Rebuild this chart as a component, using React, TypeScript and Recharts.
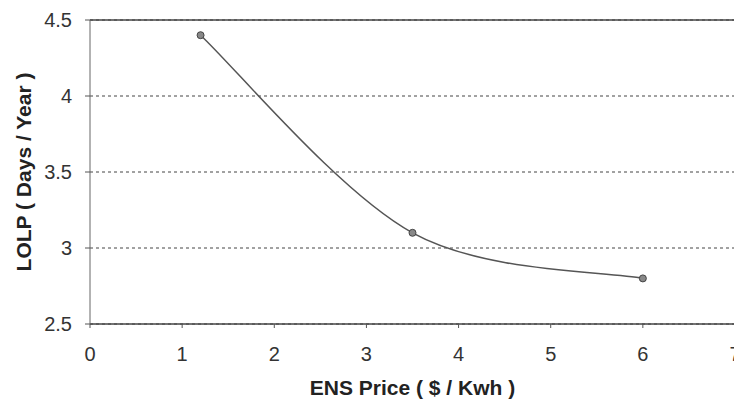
import React from 'react'
import { LineChart, Line, XAxis, YAxis, CartesianGrid, ReferenceLine, Label } from 'recharts'

// ENS price ($/kWh) against LOLP (days/year)
const ensPrice = [1.2, 3.5, 6]
const lolp = [4.4, 3.1, 2.8]

const xTicks = [0, 1, 2, 3, 4, 5, 6, 7]
const yTicks = [2.5, 3, 3.5, 4, 4.5]

const data = ensPrice.map((price, i) => ({ price, lolp: lolp[i] }))

const ink = '#333'
const font = 'Arial, "Liberation Sans", sans-serif'

// spreadsheet-style smoothing: cubic bezier through the points, tangents from neighbours / 6
const smoothCurve = (context: any) => {
  let pts: number[][] = []
  return {
    areaStart() {},
    areaEnd() {},
    lineStart() {
      pts = []
    },
    point(x: number, y: number) {
      pts.push([+x, +y])
    },
    lineEnd() {
      const n = pts.length
      if (!n) return
      context.moveTo(pts[0][0], pts[0][1])
      for (let i = 0; i < n - 1; i++) {
        const p0 = pts[Math.max(i - 1, 0)]
        const p1 = pts[i]
        const p2 = pts[i + 1]
        const p3 = pts[Math.min(i + 2, n - 1)]
        context.bezierCurveTo(
          p1[0] + (p2[0] - p0[0]) / 6,
          p1[1] + (p2[1] - p0[1]) / 6,
          p2[0] - (p3[0] - p1[0]) / 6,
          p2[1] - (p3[1] - p1[1]) / 6,
          p2[0],
          p2[1]
        )
      }
    },
  }
}

export default function App() {
  return (
    <div style={{ position: 'absolute', left: 0, top: 0, width: 734, height: 400, overflow: 'hidden', background: '#fff' }}>
      <LineChart
        width={760}
        height={400}
        data={data}
        margin={{ top: 20, right: 25, bottom: 0, left: 0 }}
        style={{ fontFamily: font }}
      >
        <CartesianGrid vertical={false} stroke="#444" strokeDasharray="3 3" strokeWidth={1} />
        <ReferenceLine y={4.5} stroke="#444" strokeWidth={1.5} />
        <XAxis
          type="number"
          dataKey="price"
          domain={[0, 7]}
          ticks={xTicks}
          interval={0}
          height={76}
          tickSize={4}
          tickMargin={19}
          stroke="#555"
          axisLine={{ stroke: '#444', strokeWidth: 1.5 }}
          tick={{ fontSize: 20, fill: ink }}
        >
          <Label
            value="ENS Price ( $ / Kwh )"
            position="insideBottom"
            offset={5}
            style={{ fontSize: 21, fontWeight: 'bold', fill: '#222', fontFamily: font }}
          />
        </XAxis>
        <YAxis
          type="number"
          domain={[2.5, 4.5]}
          ticks={yTicks}
          interval={0}
          width={90}
          tickSize={5}
          tickMargin={13}
          stroke="#555"
          axisLine={{ stroke: '#666', strokeWidth: 1 }}
          tick={{ fontSize: 20, fill: ink }}
        >
          <Label
            value="LOLP ( Days / Year )"
            angle={-90}
            position="insideLeft"
            offset={24}
            style={{ textAnchor: 'middle', fontSize: 21, fontWeight: 'bold', fill: '#222', fontFamily: font }}
          />
        </YAxis>
        <Line
          type={smoothCurve as any}
          dataKey="lolp"
          stroke="#555"
          strokeWidth={1.5}
          dot={{ r: 3.5, fill: '#888', stroke: '#444', strokeWidth: 1 }}
          activeDot={false}
          isAnimationActive={false}
        />
      </LineChart>
    </div>
  )
}
